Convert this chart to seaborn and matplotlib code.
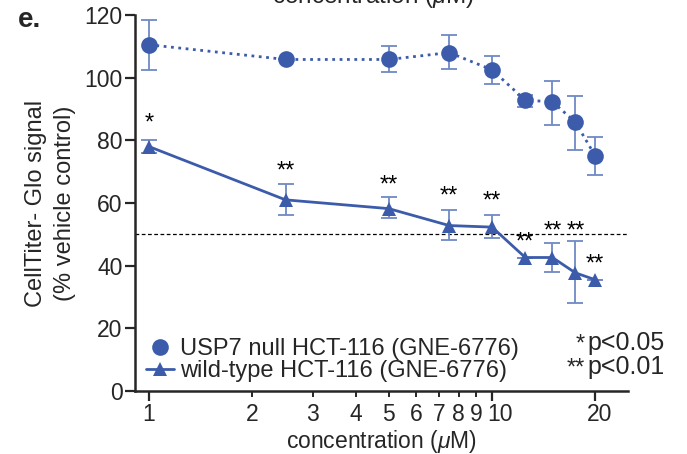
import numpy as np
import pandas as pd
import matplotlib
matplotlib.use("Agg")
import matplotlib.pyplot as plt
import matplotlib.transforms as mtransforms
from matplotlib.lines import Line2D
import seaborn as sns

# ==========================
#  Data
# ==========================
conc = [1, 2.5, 5, 7.5, 10, 12.5, 15, 17.5, 20]

null_mean = [110.5, 105.8, 105.8, 108.0, 102.5, 92.8, 92.3, 85.8, 75.0]
null_lo = [102.5, 105.8, 101.8, 102.8, 98.0, 90.5, 85.0, 77.0, 69.0]
null_hi = [118.3, 105.8, 110.0, 113.5, 107.0, 94.5, 99.0, 94.0, 81.0]

wt_mean = [78.0, 61.0, 58.2, 52.8, 52.3, 42.6, 42.6, 37.7, 35.5]
wt_lo = [76.0, 56.2, 55.2, 48.2, 48.8, 42.6, 38.0, 28.0, 35.5]
wt_hi = [80.2, 66.2, 62.0, 57.8, 56.2, 42.6, 47.3, 48.0, 35.5]

stars = ["*", "**", "**", "**", "**", "**", "**", "**", "**"]
star_y = [85.5, 70.0, 65.5, 62.0, 60.5, 47.5, 51.0, 51.0, 40.5]

blue = "#3C5CAB"
err_blue = "#6F89C6"

df_null = pd.DataFrame({"conc": conc, "signal": null_mean})
df_wt = pd.DataFrame({"conc": conc, "signal": wt_mean})

# ==========================
#  Style
# ==========================
sns.set_style("ticks")
plt.rcParams["font.family"] = ["Liberation Sans", "DejaVu Sans"]
plt.rcParams["mathtext.fontset"] = "custom"
plt.rcParams["mathtext.it"] = "Liberation Sans:italic"
plt.rcParams["mathtext.rm"] = "Liberation Sans"

fig = plt.figure(figsize=(6.87, 4.54), dpi=100)
ax = fig.add_axes([0.1965, 0.1388, 0.7175, 0.8282])

# error bars
ax.errorbar(conc, null_mean,
            yerr=[np.array(null_mean) - np.array(null_lo), np.array(null_hi) - np.array(null_mean)],
            fmt="none", ecolor=err_blue, elinewidth=1.3, capsize=6, capthick=1.3, zorder=2)
ax.errorbar(conc, wt_mean,
            yerr=[np.array(wt_mean) - np.array(wt_lo), np.array(wt_hi) - np.array(wt_mean)],
            fmt="none", ecolor=err_blue, elinewidth=1.3, capsize=6, capthick=1.3, zorder=2)

# lines + markers
sns.lineplot(data=df_null, x="conc", y="signal", ax=ax, color=blue, linestyle=":",
             linewidth=2, marker="o", markersize=12, markeredgewidth=0, zorder=3)
sns.lineplot(data=df_wt, x="conc", y="signal", ax=ax, color=blue, linestyle="-",
             linewidth=2, marker="^", markersize=10.5, markeredgewidth=0, zorder=3)

# 50% reference line
ax.axhline(50, color="black", linestyle=(0, (3, 2)), linewidth=0.9, zorder=1)

# significance stars
for c, s, y in zip(conc, stars, star_y):
    ax.text(c, y, s, ha="center", va="center", fontsize=17, color="black")

ax.set_xscale("log")
ax.set_xlim(0.91, 24.9)
ax.set_ylim(0, 120)
ax.set_xticks([1, 10, 20])
ax.set_xticklabels(["1", "10", "20"])
ax.set_xticks([2, 3, 4, 5, 6, 7, 8, 9], minor=True)
ax.set_xticklabels(["2", "3", "4", "5", "6", "7", "8", "9"], minor=True)
ax.set_yticks([0, 20, 40, 60, 80, 100, 120])
ax.tick_params(axis="both", which="major", labelsize=16.5, length=7, width=1.6, direction="out", pad=2)
ax.tick_params(axis="x", which="minor", labelsize=16.5, length=4, width=1.4, direction="out", pad=5)

# nudge "10" and "20" labels right, as in the original
for lab in ax.get_xticklabels():
    shift = {"10": 8, "20": 4}.get(lab.get_text(), 0)
    if shift:
        lab.set_transform(lab.get_transform() + mtransforms.ScaledTranslation(shift / 100, 0, fig.dpi_scale_trans))

for sp in ["left", "bottom"]:
    ax.spines[sp].set_linewidth(1.8)
sns.despine(ax=ax)

ax.set_xlabel(r"concentration ($\mu$M)", fontsize=16.5, labelpad=1)
ax.set_ylabel("CellTiter- Glo signal\n(% vehicle control)", fontsize=17, labelpad=6, linespacing=1.4)

# legend
handles = [
    Line2D([], [], color=blue, marker="o", linestyle="none", markersize=12, markeredgewidth=0),
    Line2D([], [], color=blue, marker="^", linestyle="-", linewidth=2, markersize=10, markeredgewidth=0),
]
ax.legend(handles, ["USP7 null HCT-116 (GNE-6776)", "wild-type HCT-116 (GNE-6776)"],
          loc="lower left", bbox_to_anchor=(0.0, -0.005), frameon=False, fontsize=17,
          handlelength=1.2, handletextpad=0.25, labelspacing=0.0, borderaxespad=0.05)

fig.text(585 / 687, 1 - 345 / 454, "*", fontsize=17, ha="right", va="center")
fig.text(585 / 687, 1 - 369 / 454, "**", fontsize=17, ha="right", va="center")
fig.text(587 / 687, 1 - 343 / 454, "p<0.05", fontsize=18, ha="left", va="center")
fig.text(587 / 687, 1 - 367 / 454, "p<0.01", fontsize=18, ha="left", va="center")
fig.text(0.026, 0.957, "e.", fontsize=20, fontweight="bold", va="center")
fig.text(0.543, 0.993, r"concentration ($\mu$M)", fontsize=17.5, ha="center", va="baseline")

fig.savefig("out.png", dpi=100)
